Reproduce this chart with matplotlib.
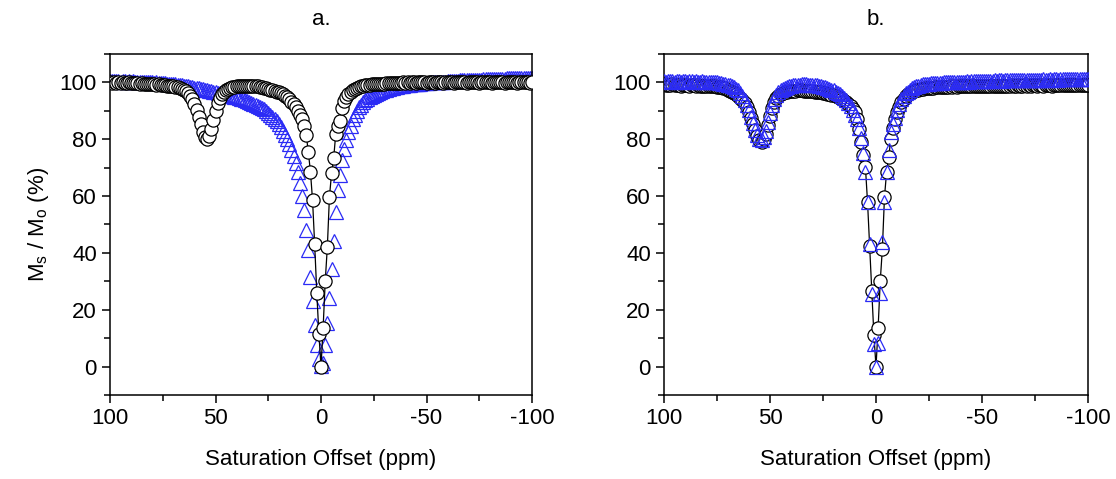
import numpy as np
import matplotlib
matplotlib.use("Agg")
import matplotlib.pyplot as plt
from matplotlib.ticker import MultipleLocator

plt.rcParams['font.family'] = ['Liberation Sans', 'DejaVu Sans']
plt.rcParams['mathtext.fontset'] = 'custom'
plt.rcParams['mathtext.rm'] = 'Liberation Sans'
plt.rcParams['axes.unicode_minus'] = False

# Saturation offsets (ppm), 100 -> -100 in 1 ppm steps
offsets = list(range(100, -101, -1))

# Panel a: circles (black)
circles_a = [
    100.2, 99.8, 100.1, 99.9, 100.0, 99.7, 100.1, 99.9, 99.8, 100.0,
    99.8, 99.9, 99.7, 99.8, 99.6, 99.7, 99.5, 99.6, 99.4, 99.5,
    99.3, 99.4, 99.2, 99.3, 99.1, 99.0, 99.1, 98.9, 98.8, 98.7,
    98.6, 98.4, 98.3, 98.0, 97.8, 97.4, 96.9, 96.2, 95.3, 94.0,
    92.3, 90.2, 87.8, 85.2, 82.6, 80.8, 80.2, 81.3, 83.5, 86.6,
    89.8, 92.6, 94.6, 95.9, 96.8, 97.4, 97.8, 98.1, 98.3, 98.5,
    98.6, 98.7, 98.8, 98.8, 98.9, 98.8, 98.9, 98.8, 98.7, 98.7,
    98.6, 98.5, 98.4, 98.2, 98.0, 97.8, 97.5, 97.3, 97.0, 96.8,
    96.5, 96.2, 95.8, 95.3, 94.7, 94.0, 93.2, 92.3, 91.2, 90.0,
    88.6, 87.0, 84.8, 81.5, 75.5, 68.5, 58.5, 43.0, 26.0, 11.5,
    0.0,
    13.6, 30.0, 42.0, 59.7, 68.0, 73.3, 82.0, 84.5, 86.5, 91.0,
    93.5, 95.0, 96.0, 96.6, 97.2, 97.7, 98.1, 98.4, 98.7, 98.9,
    99.0, 99.1, 99.2, 99.3, 99.3, 99.4, 99.5, 99.5, 99.6, 99.6,
    99.7, 99.7, 99.8, 99.7, 99.8, 99.9, 99.8, 99.9, 100.0, 99.9,
    100.0, 99.9, 100.1, 100.0, 99.9, 100.1, 100.0, 100.2, 100.0, 99.9,
    100.1, 100.0, 100.2, 99.9, 100.1, 100.0, 100.1, 99.9, 100.2, 100.0,
    100.1, 100.0, 99.9, 100.1, 100.0, 100.2, 100.0, 100.1, 99.9, 100.0,
    100.1, 100.0, 100.2, 100.0, 99.9, 100.1, 100.0, 100.1, 100.2, 100.0,
    99.9, 100.1, 100.0, 100.2, 100.1, 100.0, 99.9, 100.1, 100.0, 100.2,
    100.0, 100.1, 99.9, 100.0, 100.1, 100.0, 100.2, 100.0, 99.9, 100.0,
]

# Panel a: triangles (blue)
triangles_a = [
    100.5, 100.4, 100.6, 100.4, 100.5, 100.3, 100.5, 100.4, 100.3, 100.4,
    100.3, 100.4, 100.2, 100.3, 100.2, 100.1, 100.2, 100.1, 100.0, 100.1,
    100.0, 99.9, 100.0, 99.9, 99.8, 99.8, 99.7, 99.6, 99.6, 99.5,
    99.4, 99.3, 99.2, 99.1, 99.0, 98.9, 98.8, 98.6, 98.5, 98.3,
    98.2, 98.0, 97.9, 97.7, 97.6, 97.4, 97.3, 97.1, 96.9, 96.8,
    96.6, 96.4, 96.2, 96.1, 95.9, 95.7, 95.5, 95.3, 95.1, 94.9,
    94.7, 94.5, 94.2, 94.0, 93.7, 93.4, 93.1, 92.8, 92.5, 92.2,
    91.8, 91.4, 91.0, 90.5, 90.0, 89.3, 88.7, 88.0, 87.2, 86.3,
    85.3, 84.2, 83.0, 81.6, 80.0, 78.2, 76.2, 74.0, 71.5, 68.5,
    64.5, 60.0, 55.0, 48.0, 41.0, 31.5, 23.0, 14.5, 7.5, 2.5,
    0.3,
    1.3, 7.7, 15.4, 24.2, 34.3, 44.3, 54.4, 62.0, 67.5, 72.7,
    76.5, 79.8, 82.5, 84.8, 87.0, 88.6, 90.0, 91.2, 92.2, 93.0,
    93.7, 94.3, 94.8, 95.2, 95.6, 96.0, 96.3, 96.6, 96.9, 97.2,
    97.5, 97.7, 97.9, 98.1, 98.3, 98.5, 98.6, 98.8, 98.9, 99.0,
    99.1, 99.2, 99.3, 99.4, 99.5, 99.6, 99.6, 99.7, 99.8, 99.8,
    99.9, 100.0, 100.0, 100.1, 100.1, 100.2, 100.2, 100.3, 100.3, 100.4,
    100.4, 100.5, 100.5, 100.6, 100.6, 100.7, 100.7, 100.7, 100.8, 100.8,
    100.9, 100.9, 100.9, 101.0, 101.0, 101.0, 101.1, 101.1, 101.1, 101.2,
    101.2, 101.2, 101.2, 101.3, 101.3, 101.3, 101.3, 101.4, 101.4, 101.4,
    101.4, 101.4, 101.5, 101.5, 101.5, 101.5, 101.5, 101.6, 101.6, 101.6,
]

# Panel b: circles (black)
circles_b = [
    99.3, 99.0, 99.2, 99.1, 99.3, 99.0, 99.1, 99.2, 98.9, 99.1,
    99.0, 99.1, 98.9, 99.0, 99.1, 98.8, 99.0, 98.9, 98.8, 98.9,
    98.8, 98.7, 98.8, 98.6, 98.7, 98.5, 98.4, 98.3, 98.1, 97.9,
    97.4, 97.1, 96.8, 96.4, 95.9, 95.3, 94.6, 93.7, 92.6, 91.2,
    89.5, 87.5, 85.3, 83.2, 81.3, 79.9, 79.2, 80.0, 82.0, 85.0,
    88.3, 91.0, 93.0, 94.4, 95.3, 95.9, 96.3, 96.6, 96.8, 96.9,
    97.0, 97.1, 97.1, 97.2, 97.2, 97.2, 97.1, 97.1, 97.0, 97.0,
    96.9, 96.8, 96.7, 96.6, 96.5, 96.3, 96.2, 96.0, 95.8, 95.6,
    95.4, 95.1, 94.8, 94.4, 94.0, 93.5, 93.0, 92.3, 91.6, 90.7,
    89.5, 87.0, 83.5, 79.0, 74.5, 70.3, 58.0, 42.5, 26.6, 11.2,
    0.0,
    13.6, 30.1, 41.4, 59.7, 68.5, 73.9, 80.0, 84.0, 87.0, 89.5,
    91.5, 93.0, 94.2, 95.1, 95.8, 96.3, 96.7, 97.0, 97.3, 97.5,
    97.7, 97.8, 97.9, 98.0, 98.1, 98.1, 98.2, 98.3, 98.3, 98.4,
    98.4, 98.5, 98.4, 98.5, 98.6, 98.5, 98.6, 98.5, 98.6, 98.7,
    98.6, 98.7, 98.6, 98.7, 98.8, 98.6, 98.7, 98.8, 98.7, 98.8,
    98.7, 98.8, 98.9, 98.7, 98.8, 98.9, 98.8, 98.7, 98.9, 98.8,
    98.9, 98.8, 98.9, 99.0, 98.8, 98.9, 99.0, 98.9, 98.8, 99.0,
    98.9, 99.0, 98.9, 99.0, 99.1, 98.9, 99.0, 99.1, 98.9, 99.0,
    99.1, 99.0, 98.9, 99.1, 99.0, 99.1, 99.0, 99.2, 99.0, 99.1,
    99.0, 99.1, 99.2, 99.0, 99.1, 99.0, 99.2, 99.1, 99.0, 99.1,
]

# Panel b: triangles (blue)
triangles_b = [
    100.6, 100.3, 100.5, 100.4, 100.6, 100.3, 100.5, 100.4, 100.3, 100.5,
    100.4, 100.3, 100.5, 100.4, 100.3, 100.4, 100.2, 100.3, 100.4, 100.2,
    100.3, 100.2, 100.1, 100.2, 100.0, 100.1, 99.9, 99.8, 99.6, 99.4,
    99.2, 99.0, 98.7, 98.3, 97.8, 97.2, 96.4, 95.3, 93.9, 92.2,
    90.2, 88.0, 85.7, 83.4, 81.5, 80.2, 79.8, 80.8, 83.0, 86.0,
    89.2, 92.0, 94.1, 95.6, 96.6, 97.3, 97.8, 98.2, 98.5, 98.7,
    98.9, 99.0, 99.1, 99.2, 99.2, 99.3, 99.3, 99.3, 99.2, 99.2,
    99.1, 99.1, 99.0, 98.9, 98.7, 98.5, 98.3, 98.1, 97.8, 97.5,
    97.2, 96.8, 96.4, 95.9, 95.3, 94.6, 93.8, 92.8, 91.6, 90.2,
    88.6, 87.0, 84.0, 80.4, 75.0, 68.5, 58.0, 43.0, 25.5, 8.0,
    0.0,
    8.3, 26.0, 43.7, 57.9, 68.5, 76.2, 82.7, 85.5, 87.5, 90.4,
    92.5, 94.0, 95.2, 96.1, 96.8, 97.4, 97.9, 98.3, 98.6, 98.9,
    99.1, 99.3, 99.4, 99.5, 99.6, 99.7, 99.7, 99.8, 99.8, 99.9,
    99.9, 100.0, 100.0, 100.1, 100.1, 100.1, 100.2, 100.2, 100.2, 100.3,
    100.3, 100.3, 100.4, 100.3, 100.4, 100.4, 100.5, 100.4, 100.5, 100.5,
    100.5, 100.6, 100.5, 100.6, 100.6, 100.7, 100.6, 100.7, 100.7, 100.6,
    100.7, 100.8, 100.7, 100.8, 100.8, 100.7, 100.8, 100.9, 100.8, 100.9,
    100.9, 100.8, 100.9, 101.0, 100.9, 101.0, 100.9, 101.0, 101.1, 101.0,
    101.0, 101.1, 101.0, 101.1, 101.1, 101.0, 101.1, 101.2, 101.1, 101.1,
    101.2, 101.1, 101.2, 101.2, 101.1, 101.2, 101.3, 101.2, 101.2, 101.3,
]

panel_titles = ["a.", "b."]
xlabel = "Saturation Offset (ppm)"
ylabel = r"M$_\mathregular{s}$ / M$_\mathregular{o}$ (%)"

BLUE = "#2B2BF5"
FS = 16

fig = plt.figure(figsize=(11.16, 4.79), dpi=100)
ax_a = fig.add_axes([110/1116, 1-395/479, 422/1116, 341/479])
ax_b = fig.add_axes([664/1116, 1-395/479, 424/1116, 341/479])

def style(ax, title):
    ax.set_xlim(100, -100)
    ax.set_ylim(-10, 110)
    ax.xaxis.set_major_locator(MultipleLocator(50))
    ax.xaxis.set_minor_locator(MultipleLocator(25))
    ax.yaxis.set_major_locator(MultipleLocator(20))
    ax.yaxis.set_minor_locator(MultipleLocator(10))
    ax.set_yticks([0, 20, 40, 60, 80, 100])
    ax.tick_params(which='both', direction='out', top=False, right=False,
                   width=1.1, labelsize=FS)
    ax.tick_params(which='major', length=6)
    ax.tick_params(which='minor', length=4)
    for s in ax.spines.values():
        s.set_linewidth(1.1)
    ax.set_xlabel(xlabel, fontsize=FS, labelpad=14)
    ax.set_title(title, fontsize=16, pad=21)

# Panel a: triangles beneath, circles on top
ax_a.plot(offsets, triangles_a, linestyle='none', marker='^', markersize=10.5,
          markerfacecolor='none', markeredgecolor=BLUE, markeredgewidth=0.9,
          zorder=2)
ax_a.plot(offsets, circles_a, color='black', linewidth=0.9, marker='o',
          markersize=9.5, markerfacecolor='white', markeredgecolor='black',
          markeredgewidth=0.9, zorder=3)
style(ax_a, panel_titles[0])
ax_a.set_ylabel(ylabel, fontsize=FS, labelpad=6)

# Panel b: circles beneath, triangles on top
ax_b.plot(offsets, circles_b, color='black', linewidth=0.9, marker='o',
          markersize=9.5, markerfacecolor='white', markeredgecolor='black',
          markeredgewidth=0.9, zorder=2)
ax_b.plot(offsets, triangles_b, linestyle='none', marker='^', markersize=10.5,
          markerfacecolor='none', markeredgecolor=BLUE, markeredgewidth=0.9,
          zorder=3)
style(ax_b, panel_titles[1])

fig.savefig("out.png", dpi=100)
